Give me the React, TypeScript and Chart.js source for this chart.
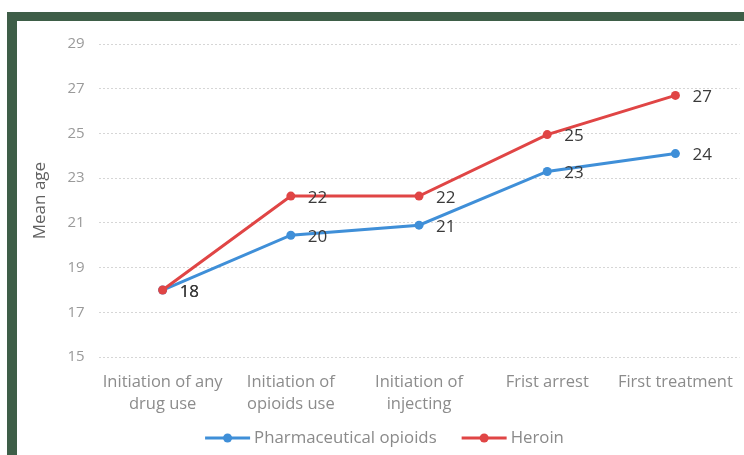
import React, { useEffect, useRef } from "react";
import { Chart, registerables } from "chart.js";

Chart.register(...registerables);

const categories: string[][] = [
  ["Initiation of any", "drug use"],
  ["Initiation of", "opioids use"],
  ["Initiation of", "injecting"],
  ["Frist arrest"],
  ["First treatment"],
];
const pharmaceuticalOpioids: number[] = [18.0, 20.45, 20.9, 23.3, 24.1];
const heroin: number[] = [18.0, 22.2, 22.2, 24.95, 26.7];
const yTicks: number[] = [15, 17, 19, 21, 23, 25, 27, 29];
const legendOrder: string[] = ["Pharmaceutical opioids", "Heroin"];

const BLUE = "#3f8fd8";
const RED = "#e04545";
const FONT = "'Open Sans', sans-serif";

const valueLabels = {
  id: "valueLabels",
  afterDatasetsDraw(chart: any) {
    const ctx = chart.ctx;
    ctx.save();
    ctx.font = "17px 'Open Sans', sans-serif";
    ctx.fillStyle = "#3a3a3a";
    ctx.textBaseline = "middle";
    ctx.textAlign = "left";
    chart.data.datasets.forEach((ds: any, di: number) => {
      const meta = chart.getDatasetMeta(di);
      meta.data.forEach((pt: any, i: number) => {
        ctx.fillText(String(Math.round(ds.data[i])), pt.x + 17, pt.y + 2);
      });
    });
    ctx.restore();
  },
};

const customLegend = {
  id: "customLegend",
  afterDraw(chart: any) {
    const ctx = chart.ctx;
    const lineW = 45;
    const textGap = 4;
    const itemGap = 25;
    ctx.save();
    ctx.font = "16.8px 'Open Sans', sans-serif";
    const items = legendOrder.map((name) => {
      const ds = chart.data.datasets.find((d: any) => d.label === name);
      return { name, color: ds.borderColor, tw: ctx.measureText(name).width };
    });
    const total =
      items.reduce((s: number, it: any) => s + lineW + textGap + it.tw, 0) +
      itemGap * (items.length - 1);
    let x = chart.width / 2 - total / 2 + 4;
    const cy = chart.height - 17;
    items.forEach((it: any) => {
      ctx.strokeStyle = it.color;
      ctx.lineWidth = 3;
      ctx.beginPath();
      ctx.moveTo(x, cy);
      ctx.lineTo(x + lineW, cy);
      ctx.stroke();
      ctx.fillStyle = it.color;
      ctx.beginPath();
      ctx.arc(x + lineW / 2, cy, 4.5, 0, Math.PI * 2);
      ctx.fill();
      ctx.fillStyle = "#8a8a8a";
      ctx.textAlign = "left";
      ctx.textBaseline = "middle";
      ctx.fillText(it.name, x + lineW + textGap, cy);
      x += lineW + textGap + it.tw + itemGap;
    });
    ctx.restore();
  },
};

export default function App() {
  const ref = useRef<HTMLCanvasElement | null>(null);
  useEffect(() => {
    if (!ref.current) return;
    const chart = new Chart(ref.current, {
      type: "line",
      data: {
        labels: categories,
        datasets: [
          {
            label: "Heroin",
            data: heroin,
            borderColor: RED,
            backgroundColor: RED,
            borderWidth: 3,
            pointRadius: 4.5,
            pointBackgroundColor: RED,
            pointBorderWidth: 0,
            tension: 0,
          },
          {
            label: "Pharmaceutical opioids",
            data: pharmaceuticalOpioids,
            borderColor: BLUE,
            backgroundColor: BLUE,
            borderWidth: 3,
            pointRadius: 4.5,
            pointBackgroundColor: BLUE,
            pointBorderWidth: 0,
            tension: 0,
          },
        ],
      },
      options: {
        animation: false,
        responsive: false,
        maintainAspectRatio: false,
        layout: { padding: { left: 4, right: 4, top: 9, bottom: 34 } },
        plugins: {
          tooltip: { enabled: false },
          legend: { display: false },
        },
        scales: {
          x: {
            offset: true,
            grid: { display: false },
            border: { display: false },
            ticks: {
              color: "#8c8c8c",
              padding: 6,
              maxRotation: 0,
              autoSkip: false,
              font: { family: FONT, size: 16.5, lineHeight: 1.33 },
            },
          },
          y: {
            min: yTicks[0],
            max: yTicks[yTicks.length - 1],
            afterBuildTicks: (axis: any) => {
              axis.ticks = yTicks.map((v) => ({ value: v }));
            },
            grid: { color: "#d6d6d6", lineWidth: 1, drawTicks: false },
            border: { display: false, dash: [2, 2] },
            ticks: {
              color: "#9a9a9a",
              padding: 14,
              font: { family: FONT, size: 15 },
            },
            title: {
              display: true,
              text: "Mean age",
              color: "#606060",
              padding: { top: 9, bottom: 3 },
              font: { family: FONT, size: 17, lineHeight: 1.2 },
            },
          },
        },
      },
      plugins: [valueLabels, customLegend],
    });
    return () => chart.destroy();
  }, []);

  return (
    <div
      style={{
        position: "fixed",
        left: 0,
        top: 0,
        width: 744,
        height: 455,
        background: "#ffffff",
        overflow: "hidden",
      }}
    >
      <div style={{ position: "absolute", left: 7, top: 12, width: 737, height: 9, background: "#3e5e48" }} />
      <div style={{ position: "absolute", left: 7, top: 12, width: 10, height: 443, background: "#3e5e48" }} />
      <canvas
        ref={ref}
        width={727}
        height={434}
        style={{ position: "absolute", left: 17, top: 21, width: 727, height: 434 }}
      />
    </div>
  );
}
